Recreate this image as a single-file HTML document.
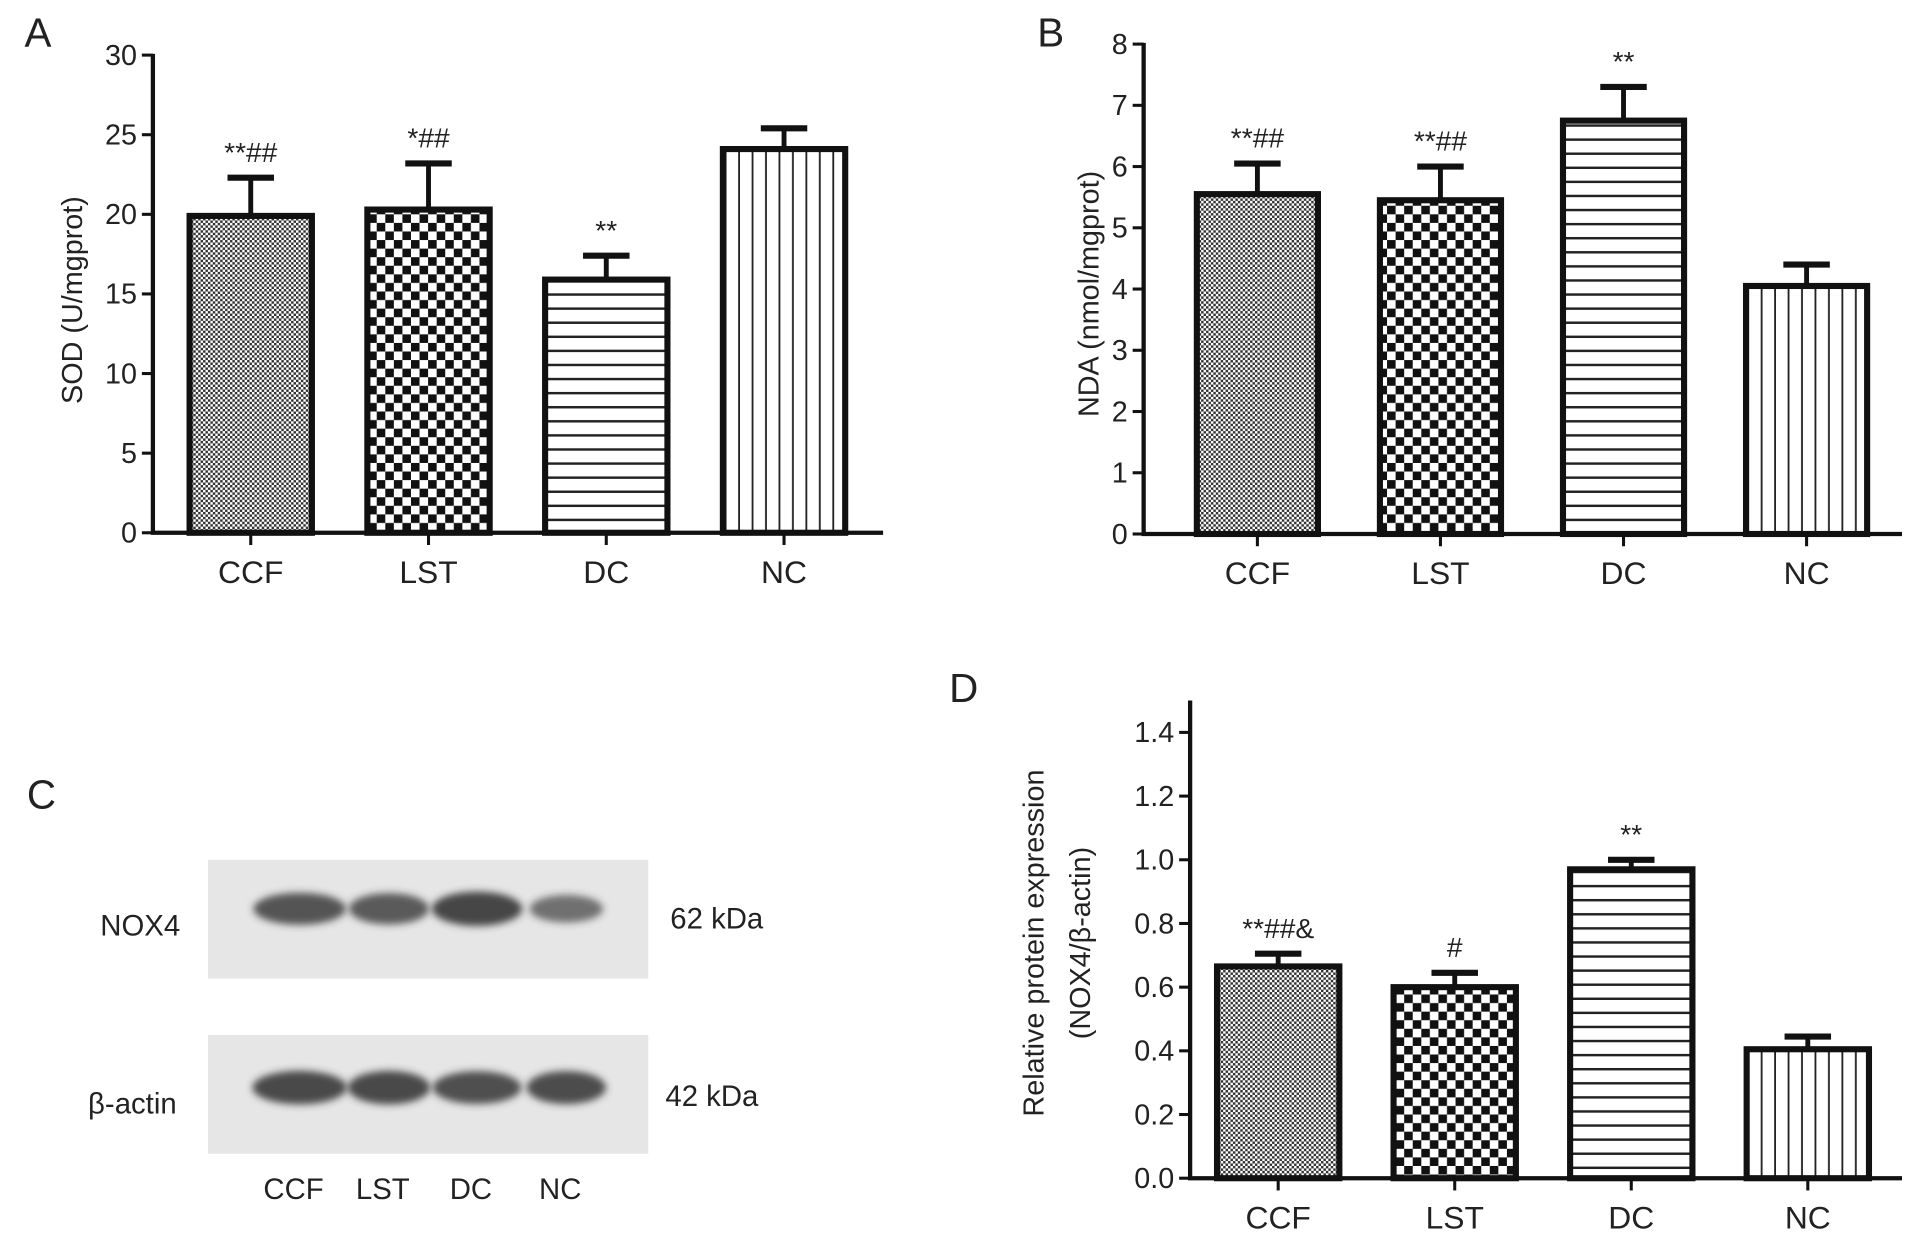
<!DOCTYPE html>
<html><head><meta charset="utf-8"><style>
html,body{margin:0;padding:0;background:#fff;}
svg{display:block;}
text{font-family:"Liberation Sans",Arial,sans-serif;fill:#222;}
</style></head><body>
<svg id="fig" width="1913" height="1237" viewBox="0 0 1564 1010" preserveAspectRatio="none" xmlns="http://www.w3.org/2000/svg">
<defs>
<pattern id="pCCF" width="4" height="4" patternUnits="userSpaceOnUse"><rect width="4" height="4" fill="#fff"/><rect width="2" height="2" fill="#333"/><rect x="2" y="2" width="2" height="2" fill="#333"/></pattern>
<pattern id="pLST" width="14" height="14" patternUnits="userSpaceOnUse"><rect width="14" height="14" fill="#fff"/><rect width="7" height="7" fill="#111"/><rect x="7" y="7" width="7" height="7" fill="#111"/></pattern>
<pattern id="pDC" width="10" height="11.5" patternUnits="userSpaceOnUse"><rect width="10" height="11.5" fill="#fff"/><rect y="9.5" width="10" height="2" fill="#222"/></pattern>
<pattern id="pNC" width="11" height="10" patternUnits="userSpaceOnUse"><rect width="11" height="10" fill="#fff"/><rect x="9.5" width="1.6" height="10" fill="#222"/></pattern>
<filter id="blur" x="-20%" y="-50%" width="140%" height="200%"><feGaussianBlur stdDeviation="3"/></filter>
</defs>
<g id="root"></g>
</svg>
<script>
const categories = ["CCF","LST","DC","NC"];
const patterns = ["pCCF","pLST","pDC","pNC"];
const sodValues = [19.9, 20.3, 15.9, 24.1];
const sodErrors = [2.4, 2.9, 1.5, 1.3];
const sodMarks = ["**##","*##","**",""];
const sodTicks = [0,5,10,15,20,25,30];
const ndaValues = [5.55, 5.45, 6.75, 4.05];
const ndaErrors = [0.5, 0.55, 0.55, 0.35];
const ndaMarks = ["**##","**##","**",""];
const ndaTicks = [0,1,2,3,4,5,6,7,8];
const noxValues = [0.665, 0.60, 0.97, 0.405];
const noxErrors = [0.04, 0.045, 0.03, 0.04];
const noxMarks = ["**##&","#","**",""];
const noxTicks = ["0.0","0.2","0.4","0.6","0.8","1.0","1.2","1.4"];
const noxBand = [0.85, 0.8, 1.0, 0.55];
const actinBand = [0.95, 0.95, 0.9, 0.92];

const NS="http://www.w3.org/2000/svg";
const root=document.getElementById('root');
function mk(tag,attrs,parent){const e=document.createElementNS(NS,tag);for(const k in attrs)e.setAttribute(k,attrs[k]);(parent||root).appendChild(e);return e;}

function panel(cfg){
  const g=mk('g',{});
  
  
  const y=v=>cfg.y0-(v-cfg.min)/(cfg.max-cfg.min)*(cfg.y0-cfg.yTop);
  const ax=mk('path',{d:`M${cfg.x0},${cfg.yAxisTop} V${cfg.y0} H${cfg.x1}`,stroke:'#111','stroke-width':3.5,fill:'none'},g);
  
  
  cfg.ticks.forEach(t=>{
    const v=parseFloat(t);
    mk('line',{x1:cfg.x0-9,x2:cfg.x0,y1:y(v),y2:y(v),stroke:'#111','stroke-width':2.5},g);
    const tx=mk('text',{x:cfg.x0-13,y:y(v)+8,'text-anchor':'end','font-size':23.5},g);
    tx.textContent=t;
    
    
  });
  categories.forEach((c,i)=>{
    const cx=cfg.cx[0]+i*(cfg.cx[3]-cfg.cx[0])/3;
    const w=cfg.bw, v=cfg.values[i], e=cfg.errors[i];
    const top=y(v), et=y(v+e);
    mk('line',{x1:cx,x2:cx,y1:top,y2:et,stroke:'#111','stroke-width':4},g);
    mk('line',{x1:cx-19,x2:cx+19,y1:et,y2:et,stroke:'#111','stroke-width':5},g);
    const r=mk('rect',{x:cx-w/2,y:top,width:w,height:cfg.y0-top,fill:`url(#${patterns[i]})`,stroke:'#111','stroke-width':5},g);
    
    
    mk('line',{x1:cx,x2:cx,y1:cfg.y0,y2:cfg.y0+10,stroke:'#111','stroke-width':2.5},g);
    const lb=mk('text',{x:cx,y:cfg.y0+41,'text-anchor':'middle','font-size':26},g);
    lb.textContent=c;
    
    
    if(cfg.marks[i]){
      const m=mk('text',{x:cx,y:et-13,'text-anchor':'middle','font-size':23},g);
      m.textContent=cfg.marks[i];
      
      
    }
  });
  cfg.title.forEach((t,k)=>{
    const tt=mk('text',{x:0,y:0,'text-anchor':'middle','font-size':23.5,transform:`translate(${cfg.titleX[k]},${cfg.titleY}) rotate(-90)`},g);
    tt.textContent=t;
    
    
  });
  const L=mk('text',{x:cfg.letter[0],y:cfg.letter[1],'font-size':33},g);
  L.textContent=cfg.letterText;
  
  
}

panel({name:'panel-a-sod-chart',x0:125,x1:722,y0:435,yTop:45,yAxisTop:44,min:0,max:30,ticks:sodTicks.map(String),
  cx:[205,352,497,641],bw:100,values:sodValues,errors:sodErrors,marks:sodMarks,
  title:['SOD (U/mgprot)'],titleX:[67],titleY:245,letter:[20,38],letterText:'A'});
panel({name:'panel-b-nda-chart',x0:935,x1:1555,y0:436,yTop:36,yAxisTop:35,min:0,max:8,ticks:ndaTicks.map(String),
  cx:[1028,1177,1328,1477],bw:99,values:ndaValues,errors:ndaErrors,marks:ndaMarks,
  title:['NDA (nmol/mgprot)'],titleX:[898],titleY:240,letter:[848,38],letterText:'B'});
panel({name:'panel-d-nox4-chart',x0:973,x1:1555,y0:962,yTop:598,yAxisTop:572,min:0,max:1.4,ticks:noxTicks,
  cx:[1045,1189,1334,1478],bw:100,values:noxValues,errors:noxErrors,marks:noxMarks,
  title:['Relative protein expression','(NOX4/β-actin)'],titleX:[853,891],titleY:770,letter:[776,573],letterText:'D'});

const gc=mk('g',{});


const lanes=[245,318,390,463];
[[702,742,noxBand,'nox4-blot'],[845,888,actinBand,'actin-blot']].forEach(([by,bandY,vals,nm])=>{
  const b=mk('rect',{x:170,y:by,width:360,height:97,fill:'#e6e6e6'},gc);
  
  
  vals.forEach((v,i)=>{
    const w=[78,68,74,66][i];
    mk('ellipse',{cx:lanes[i],cy:bandY,rx:w/2*(0.8+0.2*v),ry:8+6*v,fill:'#333','fill-opacity':0.35+0.55*v,filter:'url(#blur)'},gc);
  });
});
[['C',22,660,33],['NOX4',82,764,24],['β-actin',72,909,24],['62 kDa',548,758,24],['42 kDa',544,903,24]].forEach(([t,x,y,s])=>{
  const e=mk('text',{x:x,y:y,'font-size':s},gc);e.textContent=t;
  
  
});
categories.forEach((c,i)=>{
  const e=mk('text',{x:lanes[i]-5,y:979,'text-anchor':'middle','font-size':24},gc);e.textContent=c;
  
  
});
</script>
</body></html>
